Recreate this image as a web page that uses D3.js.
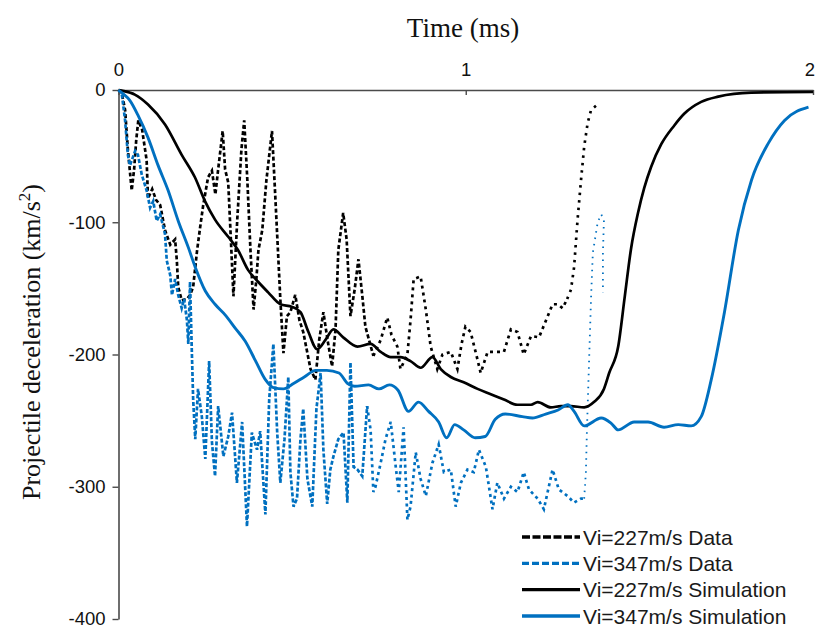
<!DOCTYPE html>
<html>
<head>
<meta charset="utf-8">
<script src="https://cdn.jsdelivr.net/npm/d3@7"></script>
<style>
  html, body { margin: 0; padding: 0; background: #fff; }
  svg { display: block; }
</style>
</head>
<body>
<svg id="chart" width="815" height="628"></svg>
<script>
// ---------------- DATA ----------------
const xTicks = [0, 1, 2];
const yTicks = [0, -100, -200, -300, -400];

const seriesNames = ["Vi=227m/s Data", "Vi=347m/s Data", "Vi=227m/s Simulation", "Vi=347m/s Simulation"];

// Vi=227 m/s measured data (time ms, deceleration km/s^2)
const t227Data = [0,0.009,0.019,0.027,0.038,0.045,0.051,0.057,0.068,0.081,0.085,0.097,0.108,0.120,0.134,0.149,0.163,0.168,0.172,0.182,0.197,0.206,0.215,0.226,0.235,0.244,0.258,0.269,0.279,0.287,0.300,0.307,0.316,0.325,0.331,0.342,0.354,0.362,0.371,0.380,0.389,0.397,0.403,0.414,0.426,0.442,0.452,0.466,0.475,0.485,0.495,0.509,0.521,0.532,0.553,0.567,0.578,0.590,0.602,0.615,0.625,0.633,0.647,0.657,0.668,0.680,0.691,0.703,0.711,0.734,0.755,0.774,0.786,0.803,0.812,0.832,0.841,0.850,0.870,0.885,0.899,0.918,0.933,0.957,0.976,0.988,0.999,1.014,1.034,1.043,1.063,1.087,1.110,1.130,1.149,1.167,1.188,1.211,1.236,1.250,1.265,1.279,1.292,1.303,1.312,1.322,1.332,1.341,1.351,1.361,1.384];
const a227Data = [0,-2,-15,-45,-76,-60,-38,-23,-30,-53,-82,-75,-83,-87,-106,-117,-113,-129,-149,-159,-158,-155,-149,-122,-104,-87,-66,-61,-79,-60,-31,-60,-70,-121,-156,-98,-45,-23,-68,-121,-166,-143,-121,-106,-68,-31,-83,-158,-199,-171,-168,-155,-174,-183,-211,-219,-189,-168,-189,-209,-181,-121,-93,-113,-171,-151,-128,-158,-179,-201,-189,-172,-185,-194,-211,-200,-174,-143,-141,-166,-194,-211,-200,-198,-211,-192,-179,-183,-204,-214,-198,-198,-198,-181,-183,-200,-186,-187,-171,-162,-162,-165,-158,-151,-134,-98,-68,-43,-25,-15,-10];

// Vi=347 m/s measured data
const t347Data = [0,0.009,0.019,0.027,0.033,0.048,0.056,0.067,0.081,0.091,0.100,0.110,0.120,0.134,0.139,0.149,0.154,0.163,0.172,0.182,0.189,0.197,0.201,0.206,0.211,0.215,0.221,0.229,0.240,0.250,0.261,0.269,0.278,0.287,0.302,0.316,0.327,0.341,0.356,0.370,0.384,0.399,0.408,0.423,0.434,0.446,0.457,0.466,0.478,0.489,0.495,0.504,0.514,0.524,0.532,0.544,0.558,0.570,0.582,0.590,0.601,0.610,0.619,0.633,0.648,0.659,0.668,0.677,0.688,0.702,0.716,0.726,0.734,0.740,0.755,0.769,0.784,0.798,0.807,0.821,0.832,0.841,0.856,0.870,0.885,0.904,0.922,0.937,0.957,0.971,0.986,1.005,1.023,1.038,1.058,1.077,1.091,1.110,1.130,1.149,1.167,1.182,1.207,1.225,1.250,1.268,1.293,1.312,1.332,1.341,1.346,1.349,1.355,1.361,1.366,1.380,1.390,1.398,1.395,1.395];
const a347Data = [0,-2,-23,-49,-57,-46,-49,-64,-76,-89,-84,-99,-94,-109,-129,-140,-155,-143,-155,-165,-158,-174,-192,-145,-196,-234,-264,-226,-247,-279,-205,-266,-292,-239,-277,-262,-244,-297,-251,-330,-259,-272,-258,-321,-234,-192,-259,-297,-264,-217,-289,-315,-309,-264,-241,-294,-315,-241,-214,-272,-313,-287,-277,-264,-259,-312,-206,-285,-287,-292,-239,-257,-304,-300,-282,-264,-251,-284,-304,-255,-325,-315,-274,-294,-307,-282,-268,-289,-287,-315,-297,-287,-289,-272,-285,-317,-297,-309,-300,-304,-289,-302,-309,-317,-287,-302,-307,-312,-309,-309,-289,-257,-206,-156,-123,-100,-94,-98,-123,-153];

// Vi=227 m/s simulation
const t227Sim = [0,0.009,0.047,0.085,0.134,0.182,0.220,0.249,0.278,0.316,0.344,0.373,0.402,0.431,0.466,0.500,0.524,0.547,0.572,0.596,0.619,0.647,0.688,0.726,0.755,0.784,0.812,0.841,0.870,0.904,0.928,0.957,0.994,1.034,1.072,1.110,1.149,1.188,1.207,1.245,1.274,1.303,1.341,1.369,1.398,1.413,1.439,1.458,1.476,1.496,1.514,1.534,1.563,1.600,1.629,1.678,1.727,1.822,2.0];
const a227Sim = [0,-0.5,-3.5,-11,-26,-49,-66,-84,-98,-111,-121,-136,-145,-153,-162,-164,-168,-183,-196,-189,-181,-187,-194,-192,-198,-202,-202,-205,-210,-202,-211,-217,-221,-226,-230,-234,-238,-238,-236,-240,-239,-239,-240,-236,-226,-214,-194,-156,-120,-93,-74,-58,-41,-27,-18,-9,-5,-2,-1.5];

// Vi=347 m/s simulation
const t347Sim = [0,0.009,0.033,0.056,0.085,0.114,0.143,0.172,0.201,0.221,0.250,0.278,0.307,0.336,0.365,0.395,0.423,0.446,0.475,0.504,0.535,0.568,0.600,0.635,0.660,0.680,0.720,0.750,0.780,0.805,0.835,0.864,0.893,0.922,0.945,0.968,0.994,1.027,1.056,1.085,1.114,1.163,1.192,1.230,1.266,1.294,1.312,1.341,1.390,1.419,1.439,1.485,1.525,1.571,1.612,1.649,1.678,1.707,1.745,1.785,1.823,1.872,1.918,1.987];
const a347Sim = [0,-2,-8,-19,-36,-57,-76,-99,-119,-134,-152,-162,-170,-180,-190,-205,-219,-225,-226,-222,-217,-212,-212,-214,-222,-224,-223,-226,-223,-227,-243,-236,-243,-251,-263,-253,-257,-263,-262,-249,-245,-247,-248,-245,-242,-238,-243,-254,-248,-252,-257,-251,-251,-255,-253,-254,-247,-219,-168,-106,-68,-40,-23,-13];

// ---------------- CHART ----------------
const black = "#000000";
const blue = "#0070C0";
const svg = d3.select("#chart");

const x = d3.scaleLinear().domain([0, 2]).range([118.5, 813]);
const y = d3.scaleLinear().domain([0, -400]).range([90, 619]);

const zip = (ts, as) => ts.map((t, i) => [t, as[i]]);

// split a series into pieces at time thresholds (sharing boundary points)
function splitAt(points, cuts) {
  const out = [];
  let cur = [];
  let ci = 0;
  points.forEach((p, i) => {
    cur.push(p);
    if (ci < cuts.length && i < points.length - 1 && points[i + 1][0] > cuts[ci] && p[0] <= cuts[ci]) {
      out.push(cur);
      cur = [p];
      ci++;
    }
  });
  out.push(cur);
  return out;
}

const lineLin = d3.line().x(d => x(d[0])).y(d => y(d[1]));
const lineSmooth = d3.line().x(d => x(d[0])).y(d => y(d[1])).curve(d3.curveMonotoneX);
const fmt = d => String(d);   // plain hyphen-minus as in the reference

// axes
const xAxis = d3.axisTop(x).tickValues(xTicks).tickFormat(fmt)
  .tickSizeInner(-5).tickSizeOuter(0).tickPadding(14);
const gx = svg.append("g").attr("transform", "translate(0,90)").call(xAxis);

const yAxis = d3.axisLeft(y).tickValues(yTicks).tickFormat(fmt)
  .tickSizeInner(6).tickSizeOuter(0).tickPadding(7);
const gy = svg.append("g").attr("transform", "translate(118.5,0)").call(yAxis);

[gx, gy].forEach(g => {
  g.select(".domain").attr("stroke", "#4a4a4a").attr("stroke-width", 1.6);
  g.selectAll(".tick line").attr("stroke", "#4a4a4a").attr("stroke-width", 1.4);
  g.selectAll(".tick text").attr("fill", "#111").attr("font-family", "Liberation Sans, Arial, sans-serif").attr("font-size", 18.5);
});
gy.selectAll(".tick text").attr("dy", "0.32em");
gx.selectAll(".tick text").attr("dy", "0");
// keep the last x label inside the page
gx.selectAll(".tick text").filter(d => d === 2).attr("text-anchor", "end").attr("x", 1.5);

// data series
const plot = svg.append("g");

// measured data 227 (dashed, becoming dotted)
splitAt(zip(t227Data, a227Data), [0.75, 1.30]).forEach((seg, i) => {
  plot.append("path").attr("d", lineLin(seg)).attr("fill", "none")
    .attr("stroke", black).attr("stroke-width", 2.7)
    .attr("stroke-dasharray", ["4,2.5", "3,4", "2.5,5"][i]);
});
// measured data 347
splitAt(zip(t347Data, a347Data), [0.72, 1.341]).forEach((seg, i) => {
  plot.append("path").attr("d", lineLin(seg)).attr("fill", "none")
    .attr("stroke", blue).attr("stroke-width", i === 2 ? 1.8 : 2.7)
    .attr("stroke-dasharray", ["4,2", "3,3.5", "1.5,5"][i]);
});
// simulations
plot.append("path").attr("d", lineSmooth(zip(t227Sim, a227Sim))).attr("fill", "none")
  .attr("stroke", black).attr("stroke-width", 2.7).attr("stroke-linejoin", "round");
plot.append("path").attr("d", lineSmooth(zip(t347Sim, a347Sim))).attr("fill", "none")
  .attr("stroke", blue).attr("stroke-width", 2.9).attr("stroke-linejoin", "round");

// titles
svg.append("text").attr("x", 463).attr("y", 37).attr("text-anchor", "middle")
  .attr("font-family", "Liberation Serif, Times New Roman, serif").attr("font-size", 27)
  .attr("fill", "#111").text("Time (ms)");

const yl = svg.append("text").attr("transform", "translate(40,342) rotate(-90)")
  .attr("text-anchor", "middle")
  .attr("font-family", "Liberation Serif, Times New Roman, serif").attr("font-size", 26)
  .attr("fill", "#111");
yl.append("tspan").text("Projectile deceleration (km/s");
yl.append("tspan").attr("dy", -10).attr("font-size", 17).text("2");
yl.append("tspan").attr("dy", 10).text(")");

// legend
const legendStyles = [
  { color: black, dash: "8,2.5" },
  { color: blue, dash: "7,3" },
  { color: black, dash: null },
  { color: blue, dash: null }
];
const legendY = d3.scaleLinear().domain([0, 3]).range([537, 616]);
const lg = svg.append("g");
seriesNames.forEach((name, i) => {
  const yy = legendY(i);
  const ln = lg.append("line").attr("x1", 522).attr("x2", 580).attr("y1", yy).attr("y2", yy)
    .attr("stroke", legendStyles[i].color).attr("stroke-width", 3.4);
  if (legendStyles[i].dash) ln.attr("stroke-dasharray", legendStyles[i].dash);
  lg.append("text").attr("x", 583).attr("y", yy).attr("dy", "0.36em")
    .attr("font-family", "Liberation Sans, Arial, sans-serif").attr("font-size", 21)
    .attr("fill", "#1a1a1a").text(name);
});
</script>
</body>
</html>
